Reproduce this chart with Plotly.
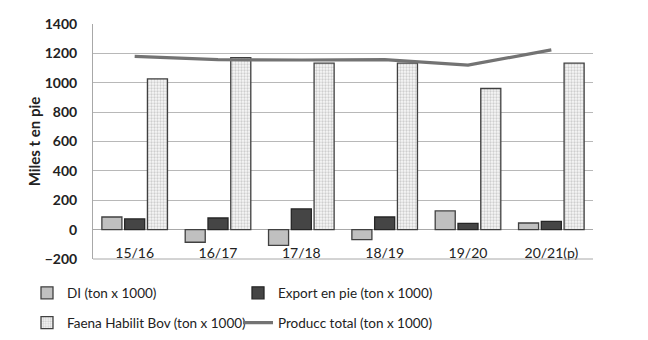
import plotly.graph_objects as go

categories = ["15/16", "16/17", "17/18", "18/19", "19/20", "20/21(p)"]
di = [86, -86, -107, -68, 127, 45]
export_pie = [73, 79, 141, 86, 43, 56]
faena = [1026, 1171, 1133, 1133, 961, 1133]
producc = [1180, 1157, 1155, 1158, 1120, 1224]
y_ticks = [-200, 0, 200, 400, 600, 800, 1000, 1200, 1400]

FONT = "Lato"
fig = go.Figure()
fig.add_trace(go.Bar(x=categories, y=di, name="DI (ton x 1000)",
                     marker=dict(color="#c0c0c0", line=dict(color="#404040", width=1.3)),
                     legend="legend"))
fig.add_trace(go.Bar(x=categories, y=export_pie, name="Export en pie (ton x 1000)",
                     marker=dict(color="#454545", line=dict(color="#262626", width=1.3)),
                     legend="legend"))
fig.add_trace(go.Bar(x=categories, y=faena, name="Faena Habilit Bov (ton x 1000)",
                     marker=dict(color="#ffffff",
                                 pattern=dict(shape=".", fgcolor="#a6a6a6", bgcolor="#f7f7f7",
                                              size=3, solidity=0.45),
                                 line=dict(color="#404040", width=1.3)),
                     legend="legend2"))
fig.add_trace(go.Scatter(x=categories, y=producc, name="Producc total (ton x 1000)",
                         mode="lines", line=dict(color="#737373", width=3.2),
                         legend="legend2"))

leg_font = dict(size=13.5, family=FONT, color="#222222")
fig.update_layout(
    width=648, height=340,
    margin=dict(l=93, r=55, t=24, b=81, autoexpand=False),
    plot_bgcolor="white", paper_bgcolor="white",
    barmode="group", bargap=0.18, bargroupgap=0.12,
    font=dict(family=FONT, color="#222222"),
    showlegend=True,
    legend=dict(orientation="h", x=-0.132, xanchor="left", y=-0.145, yanchor="middle",
                entrywidth=166, font=leg_font, bgcolor="rgba(0,0,0,0)"),
    legend2=dict(orientation="h", x=-0.132, xanchor="left", y=-0.272, yanchor="middle",
                 entrywidth=166, font=leg_font, bgcolor="rgba(0,0,0,0)"),
    xaxis=dict(anchor="free", position=0.125, showline=False, ticks="",
               showgrid=False, tickfont=dict(size=14, family=FONT, color="#222222"),
               ticklabelstandoff=13),
    yaxis=dict(range=[-200, 1400], tickvals=y_ticks, showgrid=True,
               gridcolor="#b8b8b8", gridwidth=1, zeroline=True, zerolinecolor="#a8a8a8",
               zerolinewidth=1, showline=True, linecolor="#a8a8a8", linewidth=1,
               tickfont=dict(size=14, family=FONT, color="#222222", weight="bold"),
               ticklabelstandoff=12,
               title=dict(text="Miles t en pie", font=dict(size=15, family=FONT, color="#222222", weight="bold"),
                          standoff=0)),
)
fig.add_shape(type="line", xref="paper", yref="paper", x0=0, x1=1, y0=0, y1=0,
              line=dict(color="#a8a8a8", width=1))
fig.write_html("out.html")
